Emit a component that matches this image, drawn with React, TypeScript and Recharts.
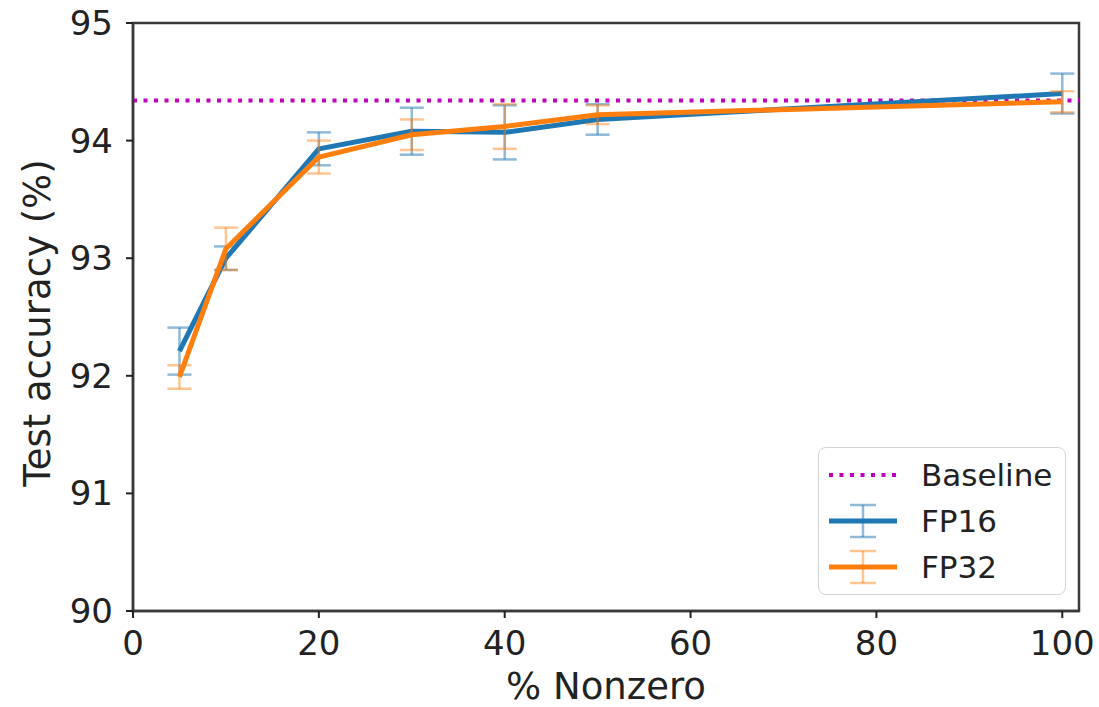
import { LineChart, Line, XAxis, YAxis, ErrorBar, ReferenceLine, ReferenceArea } from "recharts";

const nonzero = [5, 10, 20, 30, 40, 50, 100];
const fp16 = [92.21, 93.0, 93.93, 94.08, 94.07, 94.18, 94.4];
const fp16Err = [0.2, 0.1, 0.14, 0.2, 0.23, 0.13, 0.17];
const fp32 = [91.99, 93.08, 93.86, 94.05, 94.12, 94.22, 94.33];
const fp32Err = [0.1, 0.18, 0.14, 0.13, 0.19, 0.08, 0.09];
const baseline = 94.34;
const xTicks = [0, 20, 40, 60, 80, 100];
const yTicks = [90, 91, 92, 93, 94, 95];

const data = nonzero.map((x, i) => ({
  x,
  fp16: fp16[i],
  fp16Err: fp16Err[i],
  fp32: fp32[i],
  fp32Err: fp32Err[i],
}));

const BLUE = "#1f77b4";
const ORANGE = "#ff7f0e";
const MAGENTA = "#bf00bf";
const FONT = "'DejaVu Sans', sans-serif";
const SPINE = "#3a3a3a";
const X_DOMAIN = [0, 101.8];
const Y_DOMAIN = [90, 95];

const ErrGlyph = ({ color, bar }: { color: string; bar: string }) => (
  <svg width={72} height={36}>
    <line x1={2} y1={18} x2={70} y2={18} stroke={color} strokeWidth={5} />
    <line x1={36} y1={2} x2={36} y2={34} stroke={bar} strokeWidth={2.5} />
    <line x1={23} y1={2} x2={49} y2={2} stroke={bar} strokeWidth={2.5} />
    <line x1={23} y1={34} x2={49} y2={34} stroke={bar} strokeWidth={2.5} />
  </svg>
);

// legend sits on top of the plot, like matplotlib's "lower right"
const LegendBox = () => (
  <div
    style={{
      position: "absolute",
      left: 818,
      top: 447,
      width: 248,
      height: 148,
      border: "1.5px solid #d4d4d4",
      borderRadius: 8,
      background: "rgba(255,255,255,0.85)",
      fontFamily: FONT,
      fontSize: 31,
      color: "#222",
      boxSizing: "border-box",
      padding: "4px 0 0 8px",
    }}
  >
    <div style={{ display: "flex", alignItems: "center", height: 46 }}>
      <svg width={72} height={36}>
        <line x1={2} y1={18} x2={70} y2={18} stroke={MAGENTA} strokeWidth={4} strokeDasharray="4 6.5" />
      </svg>
      <span style={{ marginLeft: 22 }}>Baseline</span>
    </div>
    <div style={{ display: "flex", alignItems: "center", height: 46 }}>
      <ErrGlyph color={BLUE} bar="rgba(31,119,180,0.5)" />
      <span style={{ marginLeft: 22 }}>FP16</span>
    </div>
    <div style={{ display: "flex", alignItems: "center", height: 46 }}>
      <ErrGlyph color={ORANGE} bar="rgba(255,127,14,0.45)" />
      <span style={{ marginLeft: 22 }}>FP32</span>
    </div>
  </div>
);

const tickStyle = { fill: "#222", fontSize: 34, fontFamily: FONT };

export default function App() {
  return (
    <div style={{ position: "absolute", left: 0, top: 0, width: 1099, height: 707, background: "#fff" }}>
      <LineChart width={1099} height={707} data={data} margin={{ top: 23, right: 20, bottom: 0, left: 0 }}>
        <XAxis
          dataKey="x"
          type="number"
          domain={X_DOMAIN}
          ticks={xTicks}
          height={96}
          tick={tickStyle}
          tickSize={7}
          tickMargin={13}
          stroke={SPINE}
          strokeWidth={2.5}
          tickLine={{ stroke: "#222", strokeWidth: 2 }}
          label={{
            content: (p: any) => {
              const vb = p.viewBox;
              return (
                <text x={vb.x + vb.width / 2} y={686} textAnchor="middle" dominantBaseline="central" fill="#222" fontSize={37} fontFamily={FONT}>
                  % Nonzero
                </text>
              );
            },
          }}
        />
        <YAxis
          type="number"
          domain={Y_DOMAIN}
          ticks={yTicks}
          width={133}
          tick={tickStyle}
          tickSize={7}
          tickMargin={13}
          stroke={SPINE}
          strokeWidth={2.5}
          tickLine={{ stroke: "#222", strokeWidth: 2 }}
          label={{
            content: (p: any) => {
              const vb = p.viewBox;
              const cy = vb.y + vb.height / 2 + 6;
              return (
                <text x={37} y={cy} transform={`rotate(-90 37 ${cy})`} textAnchor="middle" dominantBaseline="central" fill="#222" fontSize={37} fontFamily={FONT}>
                  Test accuracy (%)
                </text>
              );
            },
          }}
        />
        <ReferenceArea x1={X_DOMAIN[0]} x2={X_DOMAIN[1]} y1={Y_DOMAIN[0]} y2={Y_DOMAIN[1]} fill="none" stroke={SPINE} strokeWidth={2.5} />
        <ReferenceLine y={baseline} stroke={MAGENTA} strokeWidth={4} strokeDasharray="4 6.5" />
        <Line dataKey="fp16" stroke={BLUE} strokeWidth={5} dot={false} isAnimationActive={false} strokeLinejoin="round">
          <ErrorBar dataKey="fp16Err" direction="y" width={12} stroke="rgba(31,119,180,0.5)" strokeWidth={2.5} />
        </Line>
        <Line dataKey="fp32" stroke={ORANGE} strokeWidth={5} dot={false} isAnimationActive={false} strokeLinejoin="round">
          <ErrorBar dataKey="fp32Err" direction="y" width={12} stroke="rgba(255,127,14,0.45)" strokeWidth={2.5} />
        </Line>
      </LineChart>
      <LegendBox />
    </div>
  );
}
